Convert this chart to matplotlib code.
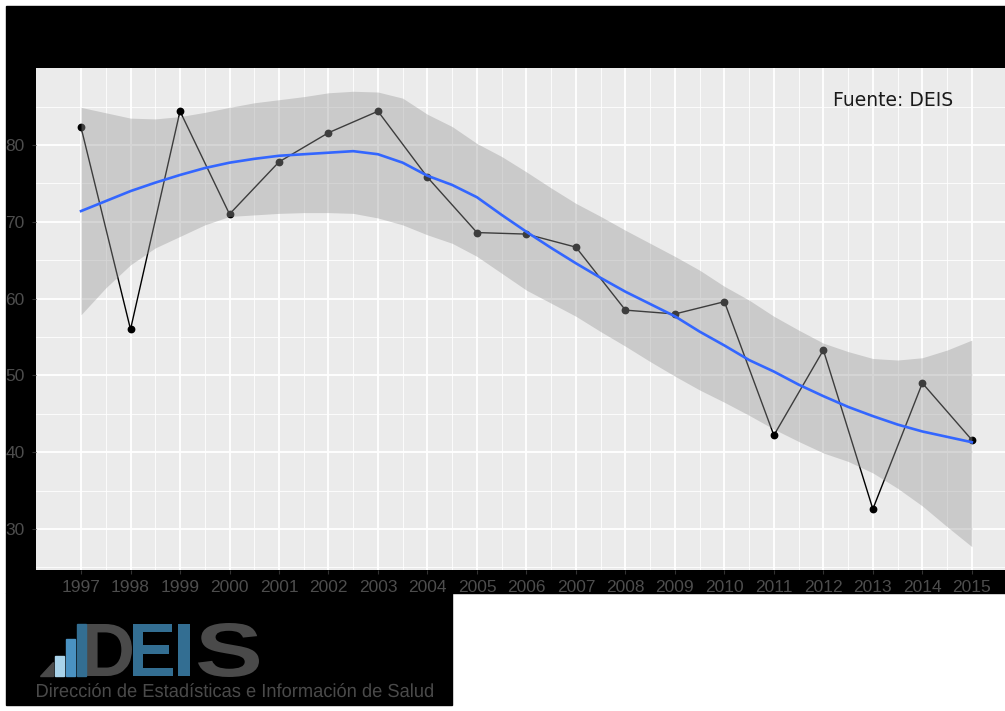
import numpy as np
import matplotlib
matplotlib.use("Agg")
import matplotlib.pyplot as plt
from matplotlib.patches import Rectangle, Polygon, PathPatch
from matplotlib.textpath import TextPath
from matplotlib.font_manager import FontProperties
from matplotlib.transforms import Affine2D, IdentityTransform

# Data
years = [1997, 1998, 1999, 2000, 2001, 2002, 2003, 2004, 2005, 2006,
         2007, 2008, 2009, 2010, 2011, 2012, 2013, 2014, 2015]
values = [82.3, 56.0, 84.4, 71.0, 77.8, 81.6, 84.4, 75.8, 68.6, 68.4,
          66.7, 58.5, 58.0, 59.6, 42.2, 53.3, 32.6, 49.0, 41.6]

# loess smooth and its confidence band, read every half year
fine_years = np.arange(1997, 2015.5, 0.5)
smooth = [71.4, 72.7, 74.0, 75.1, 76.1, 77.0, 77.7, 78.2, 78.6, 78.8,
          79.0, 79.2, 78.8, 77.7, 76.0, 74.8, 73.2, 70.9, 68.7, 66.6,
          64.6, 62.7, 60.9, 59.3, 57.7, 55.7, 53.9, 52.0, 50.5, 48.8,
          47.3, 45.9, 44.7, 43.6, 42.7, 42.0, 41.3]
band_hi = [84.9, 84.2, 83.5, 83.4, 83.7, 84.25, 84.9, 85.5, 85.9, 86.3,
           86.8, 87.0, 86.9, 86.1, 84.0, 82.4, 80.2, 78.5, 76.5, 74.4,
           72.4, 70.7, 68.9, 67.2, 65.5, 63.7, 61.6, 59.8, 57.7, 55.9,
           54.2, 53.1, 52.2, 52.0, 52.3, 53.3, 54.6]
band_lo = [57.9, 61.4, 64.4, 66.6, 68.1, 69.6, 70.7, 70.9, 71.1, 71.2,
           71.2, 71.1, 70.5, 69.6, 68.3, 67.2, 65.5, 63.3, 61.1, 59.4,
           57.7, 55.7, 53.8, 51.8, 49.9, 48.1, 46.5, 44.8, 43.0, 41.4,
           39.9, 38.8, 37.3, 35.3, 33.0, 30.3, 27.7]
y_ticks = [30, 40, 50, 60, 70, 80]

W, H = 1005, 711


def fx(x):
    return x / W


def fy(y):
    return 1 - y / H


fig = plt.figure(figsize=(W / 100, H / 100), dpi=100, facecolor="white")

# black (transparent) backdrop regions
fig.patches.append(Rectangle((fx(6), fy(593)), fx(W) - fx(6), fy(6) - fy(593),
                             transform=fig.transFigure, color="black", zorder=-1))
fig.patches.append(Rectangle((fx(6), fy(705)), fx(452) - fx(6), fy(593) - fy(705),
                             transform=fig.transFigure, color="black", zorder=-1))

ax = fig.add_axes([fx(36), fy(570), fx(W) - fx(36), fy(68) - fy(570)])
ax.set_facecolor("#EBEBEB")

# points and line first, ribbon drawn over them (as ggplot does)
ax.plot(years, values, color="black", lw=1.0, zorder=2)
ax.plot(years, values, "o", color="black", ms=4.6, zorder=2)
ax.fill_between(fine_years, band_lo, band_hi, color="#999999", alpha=0.4,
                lw=0, zorder=3)
ax.plot(fine_years, smooth, color="#3366FF", lw=1.9, zorder=4)

ax.set_xlim(1996.09, 2015.67)
ax.set_ylim(24.66, 90.03)
ax.set_xticks(years)
ax.set_xticks(np.array(years[:-1]) + 0.5, minor=True)
ax.set_yticks(y_ticks)
ax.set_yticks([25, 35, 45, 55, 65, 75, 85], minor=True)
ax.grid(which="major", color="white", lw=1.3, zorder=1)
ax.grid(which="minor", color="white", lw=0.6, zorder=1)
ax.set_axisbelow(True)
for s in ax.spines.values():
    s.set_visible(False)

ax.tick_params(which="major", length=2.6, width=0.8, color="#333333",
               labelcolor="#4D4D4D", labelsize=12.5)
ax.tick_params(which="minor", length=0)
ax.tick_params(axis="y", pad=5.5)
ax.tick_params(axis="x", pad=4.5)
for lab in ax.get_xticklabels() + ax.get_yticklabels():
    lab.set_family("Liberation Sans")

fig.text(fx(893), fy(100), "Fuente: DEIS", ha="center", va="center",
         fontsize=13.5, color="#1A1A1A", family="DejaVu Sans")


# DEIS logo, drawn in pixel units
def fit_text(s, x0, x1, top, bottom, color, weight="normal", family="Liberation Sans"):
    fp = FontProperties(family=family, weight=weight)
    path = TextPath((0, 0), s, size=100, prop=fp)
    ext = path.get_extents()
    sx = (x1 - x0) / ext.width
    sy = (bottom - top) / ext.height
    tr = Affine2D().translate(-ext.x0, -ext.y0).scale(sx, sy).translate(x0, H - bottom)
    fig.add_artist(PathPatch(path, transform=tr + IdentityTransform(),
                             color=color, lw=0))


fig.patches.append(Polygon([(fx(40), fy(676)), (fx(53), fy(676)), (fx(53), fy(662))],
                           closed=True, transform=fig.transFigure,
                           color="#4A4A4A", zorder=1))
for x0, top, col in [(55, 656, "#A9D3EA"), (66, 639, "#4A92C2"), (77, 624, "#336E92")]:
    fig.patches.append(Rectangle((fx(x0), fy(676)), fx(9), fy(top) - fy(676),
                                 transform=fig.transFigure, color=col, zorder=1))

fit_text("D", 87, 132, 624, 676, "#4A4A4A", weight="bold")
fit_text("E", 133, 173, 624, 676, "#336E92", weight="bold")
fit_text("I", 178, 190, 624, 676, "#336E92", weight="bold")
fit_text("S", 198, 259, 623, 677, "#4A4A4A", weight="bold")

# subtitle: fit width using full string, height from the cap letter
fp_sub = FontProperties(family="Liberation Sans")
sub = "Dirección de Estadísticas e Información de Salud"
cap = TextPath((0, 0), "D", size=100, prop=fp_sub).get_extents()
sub_path = TextPath((0, 0), sub, size=100, prop=fp_sub)
ext = sub_path.get_extents()
sy = 13.0 / cap.height
sx = (433 - 37) / ext.width
tr = Affine2D().translate(-ext.x0, 0).scale(sx, sy).translate(37, H - 697)
fig.add_artist(PathPatch(sub_path, transform=tr + IdentityTransform(),
                         color="#4A4A4A", lw=0))

fig.savefig("out.png", dpi=100, facecolor="white")
